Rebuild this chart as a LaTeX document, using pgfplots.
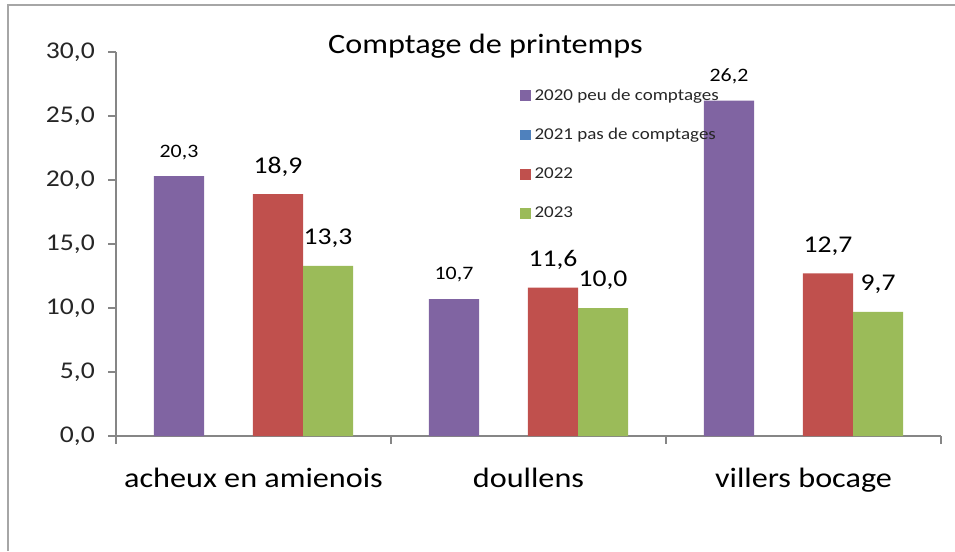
\documentclass[border=0pt]{standalone}
\usepackage{fontspec}
\setmainfont{Carlito}[FakeStretch=1.15]
\usepackage{pgfplots}
\pgfplotsset{compat=1.18}
\definecolor{cpurple}{HTML}{8064A2}
\definecolor{cblue}{HTML}{4F81BD}
\definecolor{cred}{HTML}{C0504D}
\definecolor{cgreen}{HTML}{9BBB59}
\definecolor{axcol}{HTML}{868686}
\definecolor{framecol}{HTML}{A6A6A6}
\definecolor{txt}{HTML}{262626}
\pgfplotsset{sqlegend/.style={legend image code/.code={\fill[##1,draw=none] (0pt,-3.9pt) rectangle (7.9pt,3.9pt);}}}
\begin{document}
\begin{tikzpicture}
\path[use as bounding box] (0,0) rectangle (716.25pt,413.25pt);
\draw[framecol, line width=1.5pt] (6pt,0pt) -- (6pt,409.5pt) -- (716.25pt,409.5pt);
\begin{axis}[
  at={(87pt,86.25pt)}, anchor=south west,
  scale only axis, width=618.75pt, height=288pt,
  xmin=-0.5, xmax=2.5, ymin=0, ymax=30,
  axis lines*=left,
  axis line style={axcol, line width=0.9pt},
  tick align=outside,
  major tick length=6pt,
  tick style={axcol, line width=0.9pt},
  ytick={0,5,...,30},
  xtick={-0.5,0.5,1.5,2.5},
  xticklabels={},
  extra x ticks={0,1,2},
  extra x tick labels={acheux en amienois,doullens,villers bocage},
  extra x tick style={major tick length=0pt, tick label style={anchor=base, inner sep=0pt, yshift=-38.75pt, font=\fontsize{21}{24}\selectfont, text=black}},
  yticklabel style={anchor=east, inner sep=0pt, xshift=-9.75pt, font=\fontsize{18}{20}\selectfont, text=txt},
  /pgf/number format/.cd, use comma, fixed, fixed zerofill, precision=1, assume math mode=true,
  /pgfplots/.cd,
  title={Comptage de printemps},
  title style={at={(rel axis cs:0.4479,0.976)}, anchor=base, inner sep=0pt, font=\fontsize{21}{24}\selectfont, text=black},
  legend style={at={(rel axis cs:0.4897,0.904)}, anchor=north west, draw=none, fill=none, inner sep=0pt, outer sep=0pt, row sep=19.6pt, column sep=3pt, font=\fontsize{12.4}{14}\selectfont, text=txt, nodes={inner sep=0pt}, cells={anchor=west}},
]
\addplot[ybar, bar width=0.182, bar shift=0pt, fill=cpurple, draw=none, sqlegend,
  nodes near coords, every node near coord/.append style={anchor=center, yshift=18pt, font=\fontsize{14.25}{16}\selectfont, text=black}]
  coordinates {(-0.271,20.3) (0.729,10.7) (1.729,26.2)};
\addlegendentry{2020 peu de comptages}
\addlegendimage{fill=cblue, draw=none, sqlegend}
\addlegendentry{2021 pas de comptages}
\addplot[ybar, bar width=0.182, bar shift=0pt, fill=cred, draw=none, sqlegend,
  nodes near coords, every node near coord/.append style={anchor=center, yshift=20.6pt, font=\fontsize{18}{20}\selectfont, text=black}]
  coordinates {(0.089,18.9) (1.089,11.6) (2.089,12.7)};
\addlegendentry{2022}
\addplot[ybar, bar width=0.182, bar shift=0pt, fill=cgreen, draw=none, sqlegend,
  nodes near coords, every node near coord/.append style={anchor=center, yshift=20.6pt, font=\fontsize{18}{20}\selectfont, text=black}]
  coordinates {(0.271,13.3) (1.271,10.0) (2.271,9.7)};
\addlegendentry{2023}
\end{axis}
\end{tikzpicture}
\end{document}
